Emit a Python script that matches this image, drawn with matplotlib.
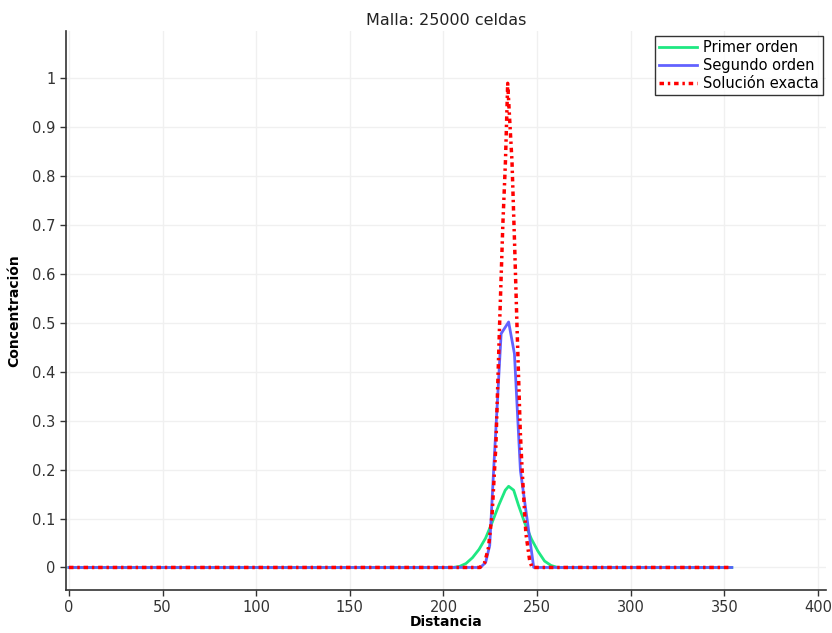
import numpy as np
import matplotlib
matplotlib.use("Agg")
import matplotlib.pyplot as plt

# values
x_primer = [0, 205, 208.5, 212, 215.5, 219, 222.5, 226, 229.5, 233, 234.8, 237.5,
            240, 243.5, 247, 250.5, 254, 257.5, 261, 354]
y_primer = [0, 0, 0.002, 0.008, 0.02, 0.037, 0.06, 0.092, 0.127, 0.158, 0.166, 0.158,
            0.128, 0.09, 0.058, 0.033, 0.013, 0.004, 0, 0]

x_segundo = [0, 219.7, 222.5, 224.7, 226.8, 230.8, 234.8, 237.9, 241.1, 248.2, 354]
y_segundo = [0, 0, 0.01, 0.045, 0.2, 0.478, 0.502, 0.437, 0.198, 0, 0]

x_exacta = [0, 219.5, 222, 224, 226, 228, 230, 231.7, 233.1, 234.3, 235.3, 236.6,
            238, 239.3, 241, 242, 244, 246, 247.3, 354]
y_exacta = [0, 0, 0.01, 0.04, 0.11, 0.25, 0.50, 0.70, 0.83, 0.99, 0.92, 0.83,
            0.66, 0.49, 0.28, 0.20, 0.07, 0.015, 0, 0]

xticks = np.arange(0, 401, 50)
yticks = np.round(np.arange(0, 1.01, 0.1), 1)
ytick_labels = ["0", "0.1", "0.2", "0.3", "0.4", "0.5", "0.6", "0.7", "0.8", "0.9", "1"]

plt.rcParams["font.family"] = ["DejaVu Sans"]
fig = plt.figure(figsize=(8.32, 6.33), dpi=100)
ax = fig.add_axes([0.0793, 0.068, 0.9135, 0.883])

ax.plot(x_primer, y_primer, color="#1ee882", lw=2.0, label="Primer orden")
ax.plot(x_segundo, y_segundo, color="#5a5aff", lw=2.0, alpha=0.95, label="Segundo orden")
ax.plot(x_exacta, y_exacta, color="#ff0000", lw=2.5, ls=(0, (1.3, 1.1, 0.7, 1.1)),
        label="Solución exacta")

ax.set_xlim(-1.6, 404.3)
ax.set_ylim(-0.046, 1.097)
ax.set_xticks(xticks)
ax.set_yticks(yticks)
ax.set_yticklabels(ytick_labels)
ax.grid(color="#f0f0f0", lw=1.0)
ax.set_axisbelow(True)
for s in ("top", "right"):
    ax.spines[s].set_visible(False)
for s in ("left", "bottom"):
    ax.spines[s].set_color("#333333")
    ax.spines[s].set_linewidth(1.2)
ax.tick_params(direction="out", length=4, width=1, colors="#333333", labelsize=10.5)

ax.set_title("Malla: 25000 celdas", fontsize=11.5, color="#222", pad=4)
ax.set_xlabel("Distancia", fontsize=10, fontweight="bold", labelpad=0)
ax.set_ylabel("Concentración", fontsize=10, fontweight="bold", labelpad=8)

leg = ax.legend(loc="upper right", bbox_to_anchor=(1.006, 1.005), fontsize=10.5,
                frameon=True, fancybox=False, handlelength=2.6, borderpad=0.3,
                labelspacing=0.2, handletextpad=0.4)
leg.get_frame().set_edgecolor("#000000")
leg.get_frame().set_linewidth(1.0)

fig.savefig("out.png", dpi=100)
